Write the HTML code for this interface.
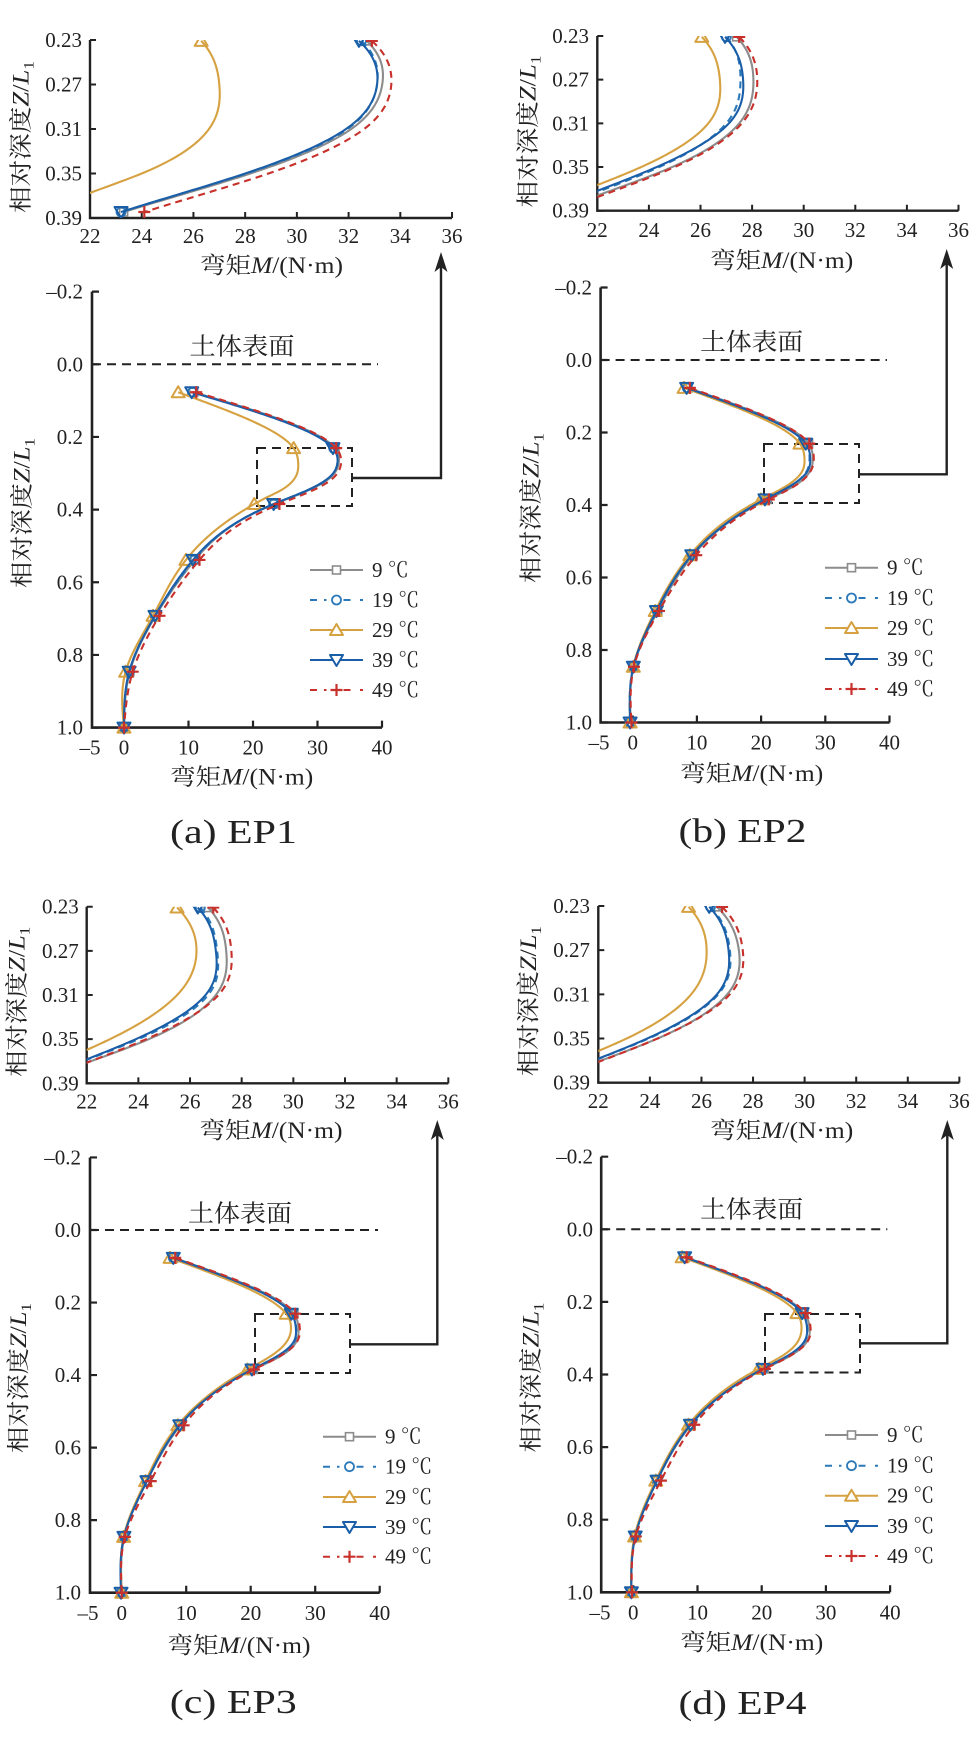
<!DOCTYPE html>
<html><head><meta charset="utf-8">
<style>
html,body{margin:0;padding:0;background:#fff}
svg{display:block}
text{font-family:"Liberation Serif","Noto Serif CJK SC",serif;fill:#222}
.t{font-size:21px}
.l{font-size:23px}
.s{font-size:24px}
.c{font-size:34px}
.lg{font-size:21px}
</style></head>
<body>
<svg id="s" width="975" height="1742" viewBox="0 0 975 1742" xmlns="http://www.w3.org/2000/svg">
<rect width="975" height="1742" fill="#fff"/>
<g id="g"></g>

<!-- ============ Panel a ============ -->
<g class="t" text-anchor="end">
<text x="82" y="47">0.23</text><text x="82" y="91.5">0.27</text><text x="82" y="136">0.31</text><text x="82" y="180.5">0.35</text><text x="82" y="225">0.39</text>
</g>
<g class="t" text-anchor="middle">
<text x="90" y="243">22</text><text x="141.7" y="243">24</text><text x="193.4" y="243">26</text><text x="245.2" y="243">28</text><text x="296.9" y="243">30</text><text x="348.6" y="243">32</text><text x="400.3" y="243">34</text><text x="452" y="243">36</text>
</g>
<text class="l" x="271.5" y="273" text-anchor="middle" textLength="143" lengthAdjust="spacingAndGlyphs">弯矩<tspan font-style="italic">M</tspan>/(N·m)</text>
<text class="l" transform="translate(28.7,137) rotate(-90)" text-anchor="middle" textLength="152" lengthAdjust="spacingAndGlyphs">相对深度<tspan font-style="italic">Z</tspan>/<tspan font-style="italic">L</tspan><tspan font-size="15" dy="5">1</tspan></text>
<g class="t" text-anchor="end">
<text x="83" y="298.6">–0.2</text><text x="83" y="371.3">0.0</text><text x="83" y="444">0.2</text><text x="83" y="516.6">0.4</text><text x="83" y="589.3">0.6</text><text x="83" y="662">0.8</text><text x="83" y="734.6">1.0</text>
</g>
<g class="t" text-anchor="middle">
<text x="90" y="754.6">–5</text><text x="124" y="754.6">0</text><text x="188.5" y="754.6">10</text><text x="253" y="754.6">20</text><text x="317.5" y="754.6">30</text><text x="382" y="754.6">40</text>
</g>
<text class="l" x="241.7" y="784.5" text-anchor="middle" textLength="143" lengthAdjust="spacingAndGlyphs">弯矩<tspan font-style="italic">M</tspan>/(N·m)</text>
<text class="l" transform="translate(29.7,513) rotate(-90)" text-anchor="middle" textLength="150" lengthAdjust="spacingAndGlyphs">相对深度<tspan font-style="italic">Z</tspan>/<tspan font-style="italic">L</tspan><tspan font-size="15" dy="5">1</tspan></text>
<text class="s" x="242" y="354.5" text-anchor="middle" textLength="105" lengthAdjust="spacingAndGlyphs">土体表面</text>
<g class="lg"><text x="372" y="577">9 ℃</text><text x="372" y="607">19 ℃</text><text x="372" y="637">29 ℃</text><text x="372" y="667">39 ℃</text><text x="372" y="697">49 ℃</text></g>
<text class="c" x="233.5" y="843" text-anchor="middle" textLength="127" lengthAdjust="spacingAndGlyphs">(a) EP1</text>

<!-- ============ Panel b ============ -->
<g class="t" text-anchor="end">
<text x="589" y="43">0.23</text><text x="589" y="86.7">0.27</text><text x="589" y="130.4">0.31</text><text x="589" y="174">0.35</text><text x="589" y="217.7">0.39</text>
</g>
<g class="t" text-anchor="middle">
<text x="597.3" y="237">22</text><text x="648.9" y="237">24</text><text x="700.5" y="237">26</text><text x="752.1" y="237">28</text><text x="803.7" y="237">30</text><text x="855.3" y="237">32</text><text x="906.9" y="237">34</text><text x="958.5" y="237">36</text>
</g>
<text class="l" x="781.7" y="268" text-anchor="middle" textLength="143" lengthAdjust="spacingAndGlyphs">弯矩<tspan font-style="italic">M</tspan>/(N·m)</text>
<text class="l" transform="translate(535.4,131.5) rotate(-90)" text-anchor="middle" textLength="152" lengthAdjust="spacingAndGlyphs">相对深度<tspan font-style="italic">Z</tspan>/<tspan font-style="italic">L</tspan><tspan font-size="15" dy="5">1</tspan></text>
<g class="t" text-anchor="end">
<text x="592" y="294.5">–0.2</text><text x="592" y="367">0.0</text><text x="592" y="439.5">0.2</text><text x="592" y="512">0.4</text><text x="592" y="584.5">0.6</text><text x="592" y="657">0.8</text><text x="592" y="729.5">1.0</text>
</g>
<g class="t" text-anchor="middle">
<text x="599" y="749.5">–5</text><text x="632.7" y="749.5">0</text><text x="696.9" y="749.5">10</text><text x="761.1" y="749.5">20</text><text x="825.3" y="749.5">30</text><text x="889.5" y="749.5">40</text>
</g>
<text class="l" x="751.7" y="781" text-anchor="middle" textLength="143" lengthAdjust="spacingAndGlyphs">弯矩<tspan font-style="italic">M</tspan>/(N·m)</text>
<text class="l" transform="translate(538.7,508) rotate(-90)" text-anchor="middle" textLength="150" lengthAdjust="spacingAndGlyphs">相对深度<tspan font-style="italic">Z</tspan>/<tspan font-style="italic">L</tspan><tspan font-size="15" dy="5">1</tspan></text>
<text class="s" x="751.7" y="350" text-anchor="middle" textLength="103" lengthAdjust="spacingAndGlyphs">土体表面</text>
<g class="lg"><text x="887" y="574.7">9 ℃</text><text x="887" y="605">19 ℃</text><text x="887" y="635">29 ℃</text><text x="887" y="666">39 ℃</text><text x="887" y="696">49 ℃</text></g>
<text class="c" x="742.5" y="842" text-anchor="middle" textLength="128" lengthAdjust="spacingAndGlyphs">(b) EP2</text>

<!-- ============ Panel c ============ -->
<g class="t" text-anchor="end">
<text x="78.7" y="913.7">0.23</text><text x="78.7" y="957.9">0.27</text><text x="78.7" y="1002">0.31</text><text x="78.7" y="1046.2">0.35</text><text x="78.7" y="1090.3">0.39</text>
</g>
<g class="t" text-anchor="middle">
<text x="86.7" y="1108.5">22</text><text x="138.4" y="1108.5">24</text><text x="190" y="1108.5">26</text><text x="241.7" y="1108.5">28</text><text x="293.3" y="1108.5">30</text><text x="345" y="1108.5">32</text><text x="396.7" y="1108.5">34</text><text x="448.3" y="1108.5">36</text>
</g>
<text class="l" x="271" y="1138" text-anchor="middle" textLength="143" lengthAdjust="spacingAndGlyphs">弯矩<tspan font-style="italic">M</tspan>/(N·m)</text>
<text class="l" transform="translate(24.7,1001.7) rotate(-90)" text-anchor="middle" textLength="150" lengthAdjust="spacingAndGlyphs">相对深度<tspan font-style="italic">Z</tspan>/<tspan font-style="italic">L</tspan><tspan font-size="15" dy="5">1</tspan></text>
<g class="t" text-anchor="end">
<text x="81" y="1164.5">–0.2</text><text x="81" y="1237">0.0</text><text x="81" y="1309.5">0.2</text><text x="81" y="1382.1">0.4</text><text x="81" y="1454.6">0.6</text><text x="81" y="1527.2">0.8</text><text x="81" y="1599.7">1.0</text>
</g>
<g class="t" text-anchor="middle">
<text x="88" y="1620">–5</text><text x="121.7" y="1620">0</text><text x="186.2" y="1620">10</text><text x="250.7" y="1620">20</text><text x="315.2" y="1620">30</text><text x="379.7" y="1620">40</text>
</g>
<text class="l" x="239" y="1653" text-anchor="middle" textLength="143" lengthAdjust="spacingAndGlyphs">弯矩<tspan font-style="italic">M</tspan>/(N·m)</text>
<text class="l" transform="translate(26.2,1378) rotate(-90)" text-anchor="middle" textLength="150" lengthAdjust="spacingAndGlyphs">相对深度<tspan font-style="italic">Z</tspan>/<tspan font-style="italic">L</tspan><tspan font-size="15" dy="5">1</tspan></text>
<text class="s" x="240" y="1221.5" text-anchor="middle" textLength="104" lengthAdjust="spacingAndGlyphs">土体表面</text>
<g class="lg"><text x="385" y="1443.7">9 ℃</text><text x="385" y="1473.7">19 ℃</text><text x="385" y="1504">29 ℃</text><text x="385" y="1534">39 ℃</text><text x="385" y="1563.7">49 ℃</text></g>
<text class="c" x="233.3" y="1713" text-anchor="middle" textLength="127" lengthAdjust="spacingAndGlyphs">(c) EP3</text>

<!-- ============ Panel d ============ -->
<g class="t" text-anchor="end">
<text x="590" y="913">0.23</text><text x="590" y="957.2">0.27</text><text x="590" y="1001.3">0.31</text><text x="590" y="1045.5">0.35</text><text x="590" y="1089.6">0.39</text>
</g>
<g class="t" text-anchor="middle">
<text x="598.3" y="1108">22</text><text x="649.9" y="1108">24</text><text x="701.5" y="1108">26</text><text x="753" y="1108">28</text><text x="804.6" y="1108">30</text><text x="856.2" y="1108">32</text><text x="907.7" y="1108">34</text><text x="959.3" y="1108">36</text>
</g>
<text class="l" x="781.7" y="1138" text-anchor="middle" textLength="143" lengthAdjust="spacingAndGlyphs">弯矩<tspan font-style="italic">M</tspan>/(N·m)</text>
<text class="l" transform="translate(536.2,1001) rotate(-90)" text-anchor="middle" textLength="150" lengthAdjust="spacingAndGlyphs">相对深度<tspan font-style="italic">Z</tspan>/<tspan font-style="italic">L</tspan><tspan font-size="15" dy="5">1</tspan></text>
<g class="t" text-anchor="end">
<text x="593" y="1163.7">–0.2</text><text x="593" y="1236.3">0.0</text><text x="593" y="1308.9">0.2</text><text x="593" y="1381.5">0.4</text><text x="593" y="1454.1">0.6</text><text x="593" y="1526.7">0.8</text><text x="593" y="1599.3">1.0</text>
</g>
<g class="t" text-anchor="middle">
<text x="600" y="1619.3">–5</text><text x="633.3" y="1619.3">0</text><text x="697.5" y="1619.3">10</text><text x="761.7" y="1619.3">20</text><text x="825.9" y="1619.3">30</text><text x="890.1" y="1619.3">40</text>
</g>
<text class="l" x="751.7" y="1650" text-anchor="middle" textLength="143" lengthAdjust="spacingAndGlyphs">弯矩<tspan font-style="italic">M</tspan>/(N·m)</text>
<text class="l" transform="translate(538.7,1377.5) rotate(-90)" text-anchor="middle" textLength="150" lengthAdjust="spacingAndGlyphs">相对深度<tspan font-style="italic">Z</tspan>/<tspan font-style="italic">L</tspan><tspan font-size="15" dy="5">1</tspan></text>
<text class="s" x="751.7" y="1217.5" text-anchor="middle" textLength="103" lengthAdjust="spacingAndGlyphs">土体表面</text>
<g class="lg"><text x="887" y="1442">9 ℃</text><text x="887" y="1472.7">19 ℃</text><text x="887" y="1502.7">29 ℃</text><text x="887" y="1533">39 ℃</text><text x="887" y="1563">49 ℃</text></g>
<text class="c" x="742.5" y="1714" text-anchor="middle" textLength="128" lengthAdjust="spacingAndGlyphs">(d) EP4</text>
</svg>

<script>
(function(){
const D=[1,3,5,7,9,11,13].map(k=>k/13);
const ST=[
 {c:'#8c8c8c',da:'',m:'sq'},
 {c:'#2b79b9',da:'7 5',m:'ci'},
 {c:'#d6a140',da:'',m:'tu'},
 {c:'#1a5ea8',da:'',m:'td'},
 {c:'#c8312b',da:'7 5',m:'pl'}
];
const AX='#222';
function mk(t,x,y,c,f){
 f=f||'none';
 switch(t){
  case 'sq': return `<rect x="${x-4}" y="${y-4}" width="8" height="8" fill="${f}" stroke="${c}" stroke-width="1.6"/>`;
  case 'ci': return `<circle cx="${x}" cy="${y}" r="4.5" fill="${f}" stroke="${c}" stroke-width="1.8"/>`;
  case 'tu': return `<polygon points="${x},${y-6} ${x-6.5},${y+5} ${x+6.5},${y+5}" fill="${f}" stroke="${c}" stroke-width="2" stroke-linejoin="round"/>`;
  case 'td': return `<polygon points="${x},${y+6} ${x-6.5},${y-5} ${x+6.5},${y-5}" fill="${f}" stroke="${c}" stroke-width="2" stroke-linejoin="round"/>`;
  case 'pl': return `<path d="M${x-6},${y}H${x+6}M${x},${y-6}V${y+6}" stroke="${c}" stroke-width="2.2" fill="none"/>`;
 }
 return '';
}
function spline(xs,ys){
 const n=xs.length,h=[],al=[],l=[],mu=[],z=[],c=[],b=[],d=[];
 for(let i=0;i<n-1;i++)h[i]=xs[i+1]-xs[i];
 for(let i=1;i<n-1;i++)al[i]=3/h[i]*(ys[i+1]-ys[i])-3/h[i-1]*(ys[i]-ys[i-1]);
 l[0]=1;mu[0]=0;z[0]=0;
 for(let i=1;i<n-1;i++){l[i]=2*(xs[i+1]-xs[i-1])-h[i-1]*mu[i-1];mu[i]=h[i]/l[i];z[i]=(al[i]-h[i-1]*z[i-1])/l[i];}
 c[n-1]=0;
 for(let j=n-2;j>=0;j--){c[j]=z[j]-mu[j]*c[j+1];b[j]=(ys[j+1]-ys[j])/h[j]-h[j]*(c[j+1]+2*c[j])/3;d[j]=(c[j+1]-c[j])/(3*h[j]);}
 return x=>{let j=0;while(j<n-2&&x>xs[j+1])j++;const t=x-xs[j];return ys[j]+b[j]*t+c[j]*t*t+d[j]*t*t*t;};
}
const PANELS=[
{M:{x0:124,sx:6.45,y0:364.3,sy:363.3,ax:92},
 I:{x0:90,sx:25.86,y0:40,sy:1112.5,ax:90},
 box:[257,448,352,506],arrY:478,arrX:441,tip:252,zeroEnd:378,leg:{x1:310,rows:[570,600,630,660,690]},
 S:[
  {n:[10.8,32.7,23.3,11.0,4.9,0.9,0],e:[[0.27,33.3],[0.31,32.1],[0.35,28.2]]},
  {n:[10.6,32.5,23.2,10.9,4.8,0.85,0],e:[[0.27,33.1],[0.31,31.95],[0.35,28.05]]},
  {n:[8.4,26.3,20.2,9.6,4.5,0.25,0],e:[[0.27,27.0],[0.31,26.6],[0.35,24.0],[0.3675,22.0]]},
  {n:[10.5,32.4,23.2,10.7,4.8,0.8,0],e:[[0.27,33.1],[0.31,31.9],[0.35,28.0]]},
  {n:[11.2,32.9,24.1,11.7,5.5,1.35,0],e:[[0.27,33.65],[0.31,32.6],[0.35,28.9]]}
 ]},
{M:{x0:632.7,sx:6.42,y0:360,sy:362.5,ax:600.6},
 I:{x0:597.3,sx:25.8,y0:36,sy:1092,ax:597.3},
 box:[764,444,859,503],arrY:474.3,arrX:946.7,tip:249,zeroEnd:887,leg:{x1:825,rows:[567.7,598,628,659,689]},
 S:[
  {n:[8.6,27.4,21.0,9.4,3.9,0.15,-0.3],e:[[0.27,28.05],[0.31,27.5],[0.35,24.9]]},
  {n:[8.5,27.0,20.7,9.2,3.8,0.1,-0.4],e:[[0.27,27.55],[0.31,27.0],[0.35,24.4]]},
  {n:[8.0,26.05,20.0,8.9,3.5,0.1,-0.4],e:[[0.27,26.75],[0.31,26.3],[0.35,23.7]]},
  {n:[8.4,26.95,20.6,9.2,3.7,0.1,-0.4],e:[[0.27,27.65],[0.31,27.1],[0.35,24.3]]},
  {n:[8.9,27.5,21.2,9.9,4.1,0.2,-0.2],e:[[0.27,28.2],[0.31,27.6],[0.35,25.0]]}
 ]},
{M:{x0:121.7,sx:6.45,y0:1230,sy:362.7,ax:90},
 I:{x0:86.7,sx:25.83,y0:906.7,sy:1104,ax:86.7},
 box:[255,1314,350,1373],arrY:1344.3,arrX:437.3,tip:1120,zeroEnd:378,leg:{x1:323,rows:[1436.7,1466.7,1497,1527,1556.7]},
 S:[
  {n:[8.1,26.7,20.4,9.1,3.9,0.4,0],e:[[0.27,27.4],[0.31,27.0],[0.35,24.4]]},
  {n:[8.0,26.4,20.2,9.0,3.9,0.35,-0.05],e:[[0.27,27.05],[0.31,26.7],[0.35,24.0]]},
  {n:[7.5,25.5,19.5,8.7,3.7,0.3,0],e:[[0.27,26.25],[0.31,25.5],[0.35,22.9]]},
  {n:[8.0,26.3,20.2,9.0,3.9,0.35,-0.1],e:[[0.27,27.0],[0.31,26.6],[0.35,23.9]]},
  {n:[8.3,26.9,20.5,9.6,4.5,0.5,0],e:[[0.27,27.6],[0.31,27.1],[0.35,24.3]]}
 ]},
{M:{x0:633.3,sx:6.42,y0:1229.3,sy:363,ax:601.2},
 I:{x0:598.3,sx:25.79,y0:906,sy:1104,ax:598.3},
 box:[765,1314,860,1372.5],arrY:1343.3,arrX:947.3,tip:1120,zeroEnd:887.3,leg:{x1:825,rows:[1435,1465.7,1495.7,1526,1556]},
 S:[
  {n:[8.1,26.6,20.4,9.0,3.7,0.3,-0.3],e:[[0.27,27.45],[0.31,27.0],[0.35,24.3]]},
  {n:[8.0,26.35,20.2,8.9,3.7,0.3,-0.3],e:[[0.27,27.1],[0.31,26.65],[0.35,23.95]]},
  {n:[7.6,25.5,19.5,8.6,3.5,0.2,-0.3],e:[[0.27,26.2],[0.31,25.6],[0.35,23.1]]},
  {n:[8.0,26.3,20.2,8.9,3.7,0.3,-0.3],e:[[0.27,27.05],[0.31,26.6],[0.35,23.9]]},
  {n:[8.3,26.8,20.5,9.5,4.3,0.4,-0.2],e:[[0.27,27.6],[0.31,27.1],[0.35,24.3]]}
 ]}
];
let out='<defs>';
PANELS.forEach((p,k)=>{
 const I=p.I, X=m=>I.x0+I.sx*(m-22), Y=v=>I.y0+I.sy*(v-0.23);
 out+=`<clipPath id="cp${k}"><rect x="${I.ax}" y="${Y(0.23)}" width="${X(36)-I.ax}" height="${Y(0.39)-Y(0.23)}"/></clipPath>`;
});
out+='</defs>';
PANELS.forEach((p,k)=>{
 const M=p.M, MX=m=>M.x0+M.sx*m, MY=v=>M.y0+M.sy*v;
 const I=p.I, IX=m=>I.x0+I.sx*(m-22), IY=v=>I.y0+I.sy*(v-0.23);
 // splines
 const fs=p.S.map(s=>{
  let pts=D.map((d,i)=>[d,s.n[i]]).concat(s.e);
  pts.sort((a,b)=>a[0]-b[0]);
  return spline(pts.map(q=>q[0]),pts.map(q=>q[1]));
 });
 // main axes
 let ax=`<path d="M${M.ax},${MY(-0.2)}V${MY(1)}H${MX(40)}" fill="none" stroke="${AX}" stroke-width="2.6"/>`;
 let tk='';
 [-0.2,0,0.2,0.4,0.6,0.8,1.0].forEach(v=>{tk+=`M${M.ax},${MY(v)}h7`;});
 [0,10,20,30,40].forEach(m=>{tk+=`M${MX(m)},${MY(1)}v-7`;});
 ax+=`<path d="${tk}" stroke="${AX}" stroke-width="2.2" fill="none"/>`;
 // inset axes
 ax+=`<path d="M${I.ax},${IY(0.23)}V${IY(0.39)}H${IX(36)}" fill="none" stroke="${AX}" stroke-width="2.4"/>`;
 tk='';
 [0.23,0.27,0.31,0.35,0.39].forEach(v=>{tk+=`M${I.ax},${IY(v)}h6`;});
 [24,26,28,30,32,34,36].forEach(m=>{tk+=`M${IX(m)},${IY(0.39)}v-6`;});
 ax+=`<path d="${tk}" stroke="${AX}" stroke-width="2" fill="none"/>`;
 out+=ax;
 // zero line, box, arrow
 out+=`<path d="M${M.ax},${MY(0)}H${p.zeroEnd}" stroke="${AX}" stroke-width="2" stroke-dasharray="9 6" fill="none"/>`;
 const b=p.box;
 out+=`<rect x="${b[0]}" y="${b[1]}" width="${b[2]-b[0]}" height="${b[3]-b[1]}" fill="none" stroke="${AX}" stroke-width="2" stroke-dasharray="9 6"/>`;
 out+=`<path d="M${b[2]},${p.arrY}H${p.arrX}V${p.tip+14}" fill="none" stroke="${AX}" stroke-width="2.4"/>`;
 out+=`<polygon points="${p.arrX},${p.tip} ${p.arrX-6.5},${p.tip+20} ${p.arrX},${p.tip+15} ${p.arrX+6.5},${p.tip+20}" fill="${AX}"/>`;
 // main curves
 fs.forEach((f,i)=>{
  const st=ST[i];
  let s=[];
  for(let v=D[0];v<=1.0000001;v+=0.002){s.push(MX(f(v)).toFixed(2)+','+MY(v).toFixed(2));}
  s.push(MX(f(1)).toFixed(2)+','+MY(1).toFixed(2));
  out+=`<polyline points="${s.join(' ')}" fill="none" stroke="${st.c}" stroke-width="2.1" stroke-linejoin="round" ${st.da?`stroke-dasharray="${st.da}"`:''}/>`;
  D.forEach((d,j)=>{out+=mk(st.m,+MX(p.S[i].n[j]).toFixed(2),+MY(d).toFixed(2),st.c);});
 });
 // inset curves
 out+=`<g clip-path="url(#cp${k})">`;
 fs.forEach((f,i)=>{
  const st=ST[i];
  let s=[];
  for(let v=D[1];v<=D[2]+1e-9;v+=0.001){s.push(IX(f(v)).toFixed(2)+','+IY(v).toFixed(2));}
  s.push(IX(f(D[2])).toFixed(2)+','+IY(D[2]).toFixed(2));
  out+=`<polyline points="${s.join(' ')}" fill="none" stroke="${st.c}" stroke-width="2.1" stroke-linejoin="round" ${st.da?`stroke-dasharray="${st.da}"`:''}/>`;
  [1,2].forEach(j=>{out+=mk(st.m,+IX(p.S[i].n[j]).toFixed(2),+IY(D[j]).toFixed(2),st.c);});
 });
 out+='</g>';
 // legend
 const x1=p.leg.x1, L=53, mid=x1+L/2;
 p.leg.rows.forEach((y,i)=>{
  const st=ST[i];
  if(st.da){
   out+=`<path d="M${x1},${y}h7M${x1+14},${y}h2.5M${mid+7},${y}h7M${x1+L-3},${y}h3" stroke="${st.c}" stroke-width="2" fill="none"/>`;
  }else{
   out+=`<path d="M${x1},${y}H${x1+L}" stroke="${st.c}" stroke-width="2" fill="none"/>`;
  }
  out+=mk(st.m,mid,y,st.c,'#fff');
 });
});
document.getElementById('g').innerHTML=out;
})();
</script>
</body></html>
